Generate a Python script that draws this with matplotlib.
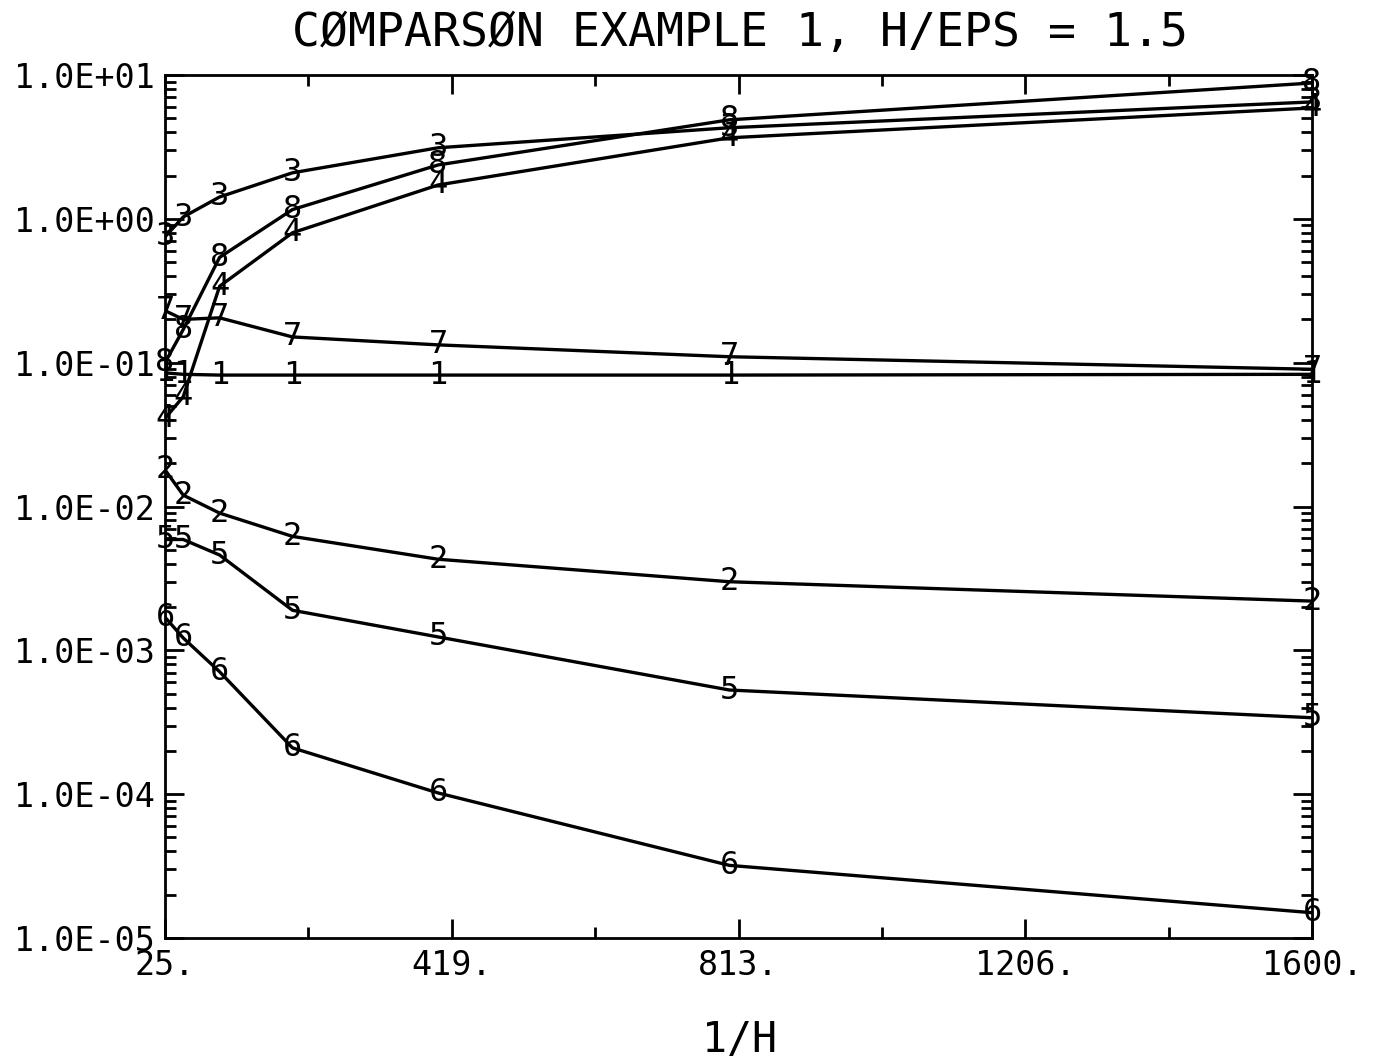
import matplotlib
matplotlib.use('Agg')
import matplotlib.pyplot as plt
import numpy as np
from matplotlib.ticker import FixedLocator, LogLocator, NullFormatter

# ---- data ----
inv_h = [25, 50, 100, 200, 400, 800, 1600]
s1 = [0.085, 0.083, 0.082, 0.082, 0.082, 0.082, 0.083]
s2 = [0.018, 0.012, 0.0090, 0.0062, 0.0043, 0.0030, 0.0022]
s3 = [0.75, 1.03, 1.42, 2.09, 3.12, 4.30, 6.5]
s4 = [0.041, 0.058, 0.34, 0.80, 1.72, 3.66, 5.9]
s5 = [0.0059, 0.0059, 0.0046, 0.0019, 0.00124, 0.00053, 0.00034]
s6 = [0.0017, 0.00122, 0.00071, 0.00021, 0.000102, 3.2e-5, 1.5e-5]
s7 = [0.23, 0.20, 0.205, 0.151, 0.133, 0.110, 0.090]
s8 = [0.10, 0.17, 0.54, 1.16, 2.37, 4.88, 8.8]
series_labels = ['1', '2', '3', '4', '5', '6', '7', '8']
x_ticks = [25, 418.75, 812.5, 1206.25, 1600]
x_ticklabels = ['25.', '419.', '813.', '1206.', '1600.']
y_ticks = [1e1, 1e0, 1e-1, 1e-2, 1e-3, 1e-4, 1e-5]
y_ticklabels = ['1.0E+01', '1.0E+00', '1.0E-01', '1.0E-02', '1.0E-03', '1.0E-04', '1.0E-05']
title = 'CØMPARSØN EXAMPLE 1, H/EPS = 1.5'
xlabel = '1/H'

FONT = 'DejaVu Sans Mono'
plt.rcParams['font.family'] = [FONT, 'DejaVu Sans']

fig = plt.figure(figsize=(13.75, 10.61), dpi=100)
ax = fig.add_axes([0.12, 0.1159, 0.8342, 0.8134])

all_series = [s1, s2, s3, s4, s5, s6, s7, s8]
for lab, ys in zip(series_labels, all_series):
    ax.plot(inv_h, ys, color='black', lw=2.4, solid_joinstyle='round', zorder=2)
    for xv, yv in zip(inv_h, ys):
        ax.text(xv, yv, lab, ha='center', va='center', fontsize=23,
                color='black', family=FONT, zorder=3)

ax.set_yscale('log')
ax.set_xlim(25, 1600)
ax.set_ylim(1e-5, 1e1)

ax.xaxis.set_major_locator(FixedLocator(x_ticks))
ax.set_xticklabels(x_ticklabels)
mids = [(a + b) / 2 for a, b in zip(x_ticks[:-1], x_ticks[1:])]
ax.xaxis.set_minor_locator(FixedLocator(mids))

ax.yaxis.set_major_locator(FixedLocator(y_ticks))
ax.set_yticklabels(y_ticklabels)
ax.yaxis.set_minor_locator(LogLocator(base=10, subs=np.arange(2, 10), numticks=20))
ax.yaxis.set_minor_formatter(NullFormatter())

ax.tick_params(axis='both', which='both', direction='in', top=True, right=True,
               color='black', width=2)
ax.tick_params(axis='both', which='major', length=14, labelsize=24, pad=8)
ax.tick_params(axis='both', which='minor', length=8)
ax.tick_params(axis='y', which='major', pad=7)

for sp in ax.spines.values():
    sp.set_linewidth(2)
    sp.set_color('black')

fig.text(0.538, 0.968, title, ha='center', va='center', fontsize=33.5, family=FONT)
fig.text(0.538, 0.02, xlabel, ha='center', va='center', fontsize=30, family=FONT)

fig.savefig('out.png', dpi=100, facecolor='white')
